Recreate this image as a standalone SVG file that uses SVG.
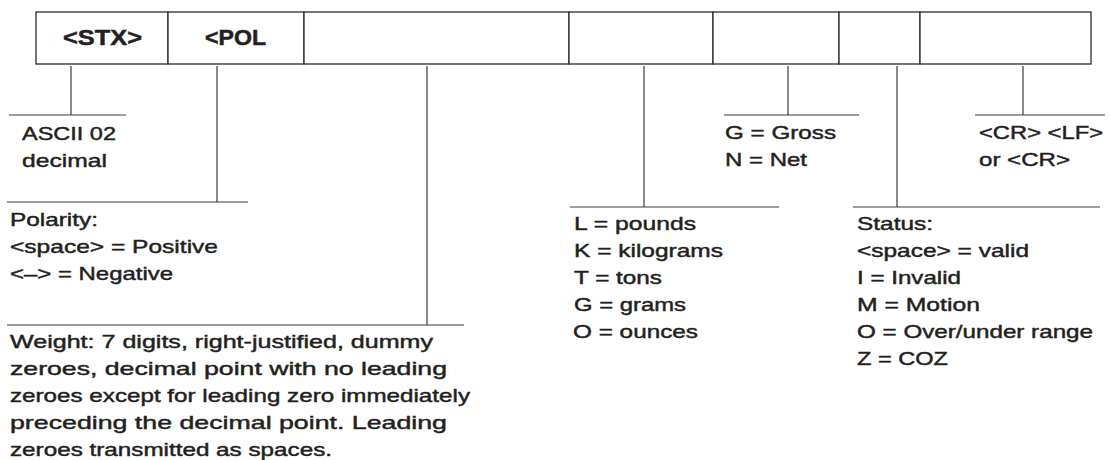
<svg xmlns="http://www.w3.org/2000/svg" width="1109" height="460" viewBox="0 0 1109 460">
<style>
.cell{fill:#fff;stroke:#2b2b2b;stroke-width:1.3}
.hdr{font-family:"Liberation Sans",Arial,sans-serif;font-weight:bold;font-size:22px;fill:#231f20;stroke:#231f20;stroke-width:0.5;text-anchor:middle}
.t{font-family:"Liberation Sans",Arial,sans-serif;font-size:19px;fill:#231f20;stroke:#231f20;stroke-width:0.45}
.ln{stroke:#3a3a3a;stroke-width:1.2;fill:none}
</style>
<rect width="1109" height="460" fill="#fff"/>
<g id="frame">
  <g id="cell-stx"><rect class="cell" x="36" y="12" width="132" height="52"/><text class="hdr" x="102.5" y="44.5" textLength="79" lengthAdjust="spacingAndGlyphs">&lt;STX&gt;</text></g>
  <g id="cell-pol"><rect class="cell" x="168" y="12" width="136" height="52"/><text class="hdr" x="235.5" y="44.5" textLength="61" lengthAdjust="spacingAndGlyphs">&lt;POL</text></g>
  <g id="cell-weight"><rect class="cell" x="304" y="12" width="265" height="52"/></g>
  <g id="cell-units"><rect class="cell" x="569" y="12" width="144" height="52"/></g>
  <g id="cell-gn"><rect class="cell" x="713" y="12" width="126" height="52"/></g>
  <g id="cell-status"><rect class="cell" x="839" y="12" width="81" height="52"/></g>
  <g id="cell-term"><rect class="cell" x="920" y="12" width="171" height="52"/></g>
</g>
<g id="connectors">
  <path class="ln" d="M71 66V115M9 115H126"/>
  <path class="ln" d="M217 66V202M7 202H248"/>
  <path class="ln" d="M427 66V325M7 325H464"/>
  <path class="ln" d="M644 66V207M570 207H779"/>
  <path class="ln" d="M788 66V115M724 115H859"/>
  <path class="ln" d="M897 66V207M853 207H1100"/>
  <path class="ln" d="M1023 66V115M975 115H1105"/>
</g>
<g id="label-stx">
  <text class="t" x="22" y="140" textLength="94" lengthAdjust="spacingAndGlyphs">ASCII 02</text>
  <text class="t" x="22" y="167" textLength="85" lengthAdjust="spacingAndGlyphs">decimal</text>
</g>
<g id="label-pol">
  <text class="t" x="10" y="226" textLength="88" lengthAdjust="spacingAndGlyphs">Polarity:</text>
  <text class="t" x="10" y="253" textLength="208" lengthAdjust="spacingAndGlyphs">&lt;space&gt; = Positive</text>
  <text class="t" x="10" y="280" textLength="163" lengthAdjust="spacingAndGlyphs">&lt;–&gt; = Negative</text>
</g>
<g id="label-weight">
  <text class="t" x="10" y="348" textLength="423" lengthAdjust="spacingAndGlyphs">Weight: 7 digits, right-justified, dummy</text>
  <text class="t" x="10" y="375" textLength="437" lengthAdjust="spacingAndGlyphs">zeroes, decimal point with no leading</text>
  <text class="t" x="10" y="402" textLength="460" lengthAdjust="spacingAndGlyphs">zeroes except for leading zero immediately</text>
  <text class="t" x="10" y="429" textLength="437" lengthAdjust="spacingAndGlyphs">preceding the decimal point. Leading</text>
  <text class="t" x="10" y="456" textLength="322" lengthAdjust="spacingAndGlyphs">zeroes transmitted as spaces.</text>
</g>
<g id="label-units">
  <text class="t" x="574" y="230" textLength="122" lengthAdjust="spacingAndGlyphs">L = pounds</text>
  <text class="t" x="574" y="257" textLength="149" lengthAdjust="spacingAndGlyphs">K = kilograms</text>
  <text class="t" x="574" y="284" textLength="88" lengthAdjust="spacingAndGlyphs">T = tons</text>
  <text class="t" x="574" y="311" textLength="112" lengthAdjust="spacingAndGlyphs">G = grams</text>
  <text class="t" x="573" y="338" textLength="125" lengthAdjust="spacingAndGlyphs">O = ounces</text>
</g>
<g id="label-gn">
  <text class="t" x="725" y="139" textLength="111" lengthAdjust="spacingAndGlyphs">G = Gross</text>
  <text class="t" x="725" y="166" textLength="82" lengthAdjust="spacingAndGlyphs">N = Net</text>
</g>
<g id="label-status">
  <text class="t" x="857" y="230" textLength="76" lengthAdjust="spacingAndGlyphs">Status:</text>
  <text class="t" x="857" y="257" textLength="172" lengthAdjust="spacingAndGlyphs">&lt;space&gt; = valid</text>
  <text class="t" x="857" y="284" textLength="104" lengthAdjust="spacingAndGlyphs">I = Invalid</text>
  <text class="t" x="857" y="311" textLength="123" lengthAdjust="spacingAndGlyphs">M = Motion</text>
  <text class="t" x="857" y="338" textLength="236" lengthAdjust="spacingAndGlyphs">O = Over/under range</text>
  <text class="t" x="857" y="365" textLength="91" lengthAdjust="spacingAndGlyphs">Z = COZ</text>
</g>
<g id="label-term">
  <text class="t" x="979" y="139" textLength="124" lengthAdjust="spacingAndGlyphs">&lt;CR&gt; &lt;LF&gt;</text>
  <text class="t" x="979" y="166" textLength="91" lengthAdjust="spacingAndGlyphs">or &lt;CR&gt;</text>
</g>
</svg>
